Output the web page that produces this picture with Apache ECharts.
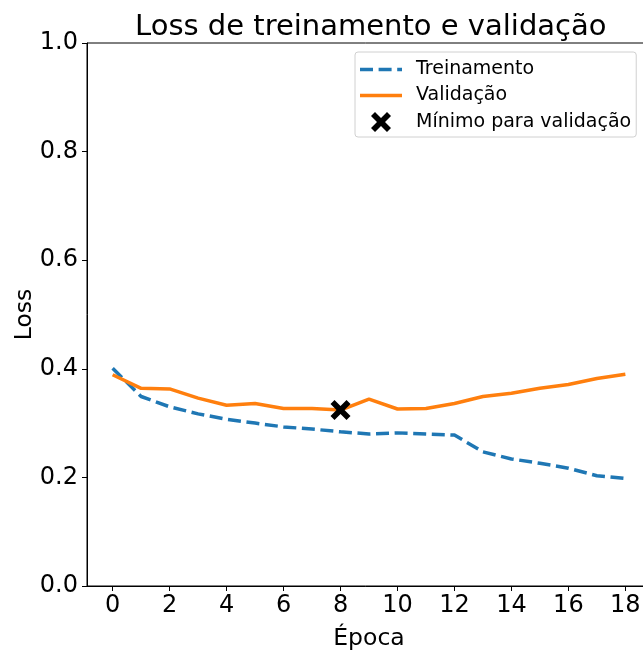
<!DOCTYPE html>
<html>
<head>
<meta charset="utf-8">
<script src="https://cdn.jsdelivr.net/npm/echarts@6/dist/echarts.min.js"></script>
<style>
  html, body { margin: 0; padding: 0; background: #fff; }
  #chart { width: 643px; height: 652px; }
</style>
</head>
<body>
<div id="chart"></div>
<script>
// Epochs and loss per epoch
const epochs = [0, 1, 2, 3, 4, 5, 6, 7, 8, 9, 10, 11, 12, 13, 14, 15, 16, 17, 18];
const trainLoss = [0.401, 0.349, 0.330, 0.317, 0.307, 0.300, 0.293, 0.289, 0.284, 0.280, 0.282, 0.280, 0.278, 0.247, 0.234, 0.226, 0.217, 0.203, 0.198];
const valLoss = [0.389, 0.364, 0.363, 0.346, 0.333, 0.336, 0.327, 0.327, 0.324, 0.344, 0.326, 0.327, 0.336, 0.349, 0.355, 0.364, 0.371, 0.382, 0.390];
const xTicks = [0, 2, 4, 6, 8, 10, 12, 14, 16, 18];
const yTicks = [0, 0.2, 0.4, 0.6, 0.8, 1.0];

// Epoch with the lowest validation loss
let bestIdx = 0;
valLoss.forEach((v, i) => { if (v < valLoss[bestIdx]) bestIdx = i; });
const bestPoint = [[epochs[bestIdx], valLoss[bestIdx]]];

const FONT = 'DejaVu Sans';
const BLUE = '#1f77b4';
const ORANGE = '#ff7f0e';
// filled "X" marker
const xMarker = 'path://M2,0 L5,3 L8,0 L10,2 L7,5 L10,8 L8,10 L5,7 L2,10 L0,8 L3,5 L0,2 Z';
// legend handles: dashed and solid strokes drawn as thin filled bars
const dashedHandle = 'path://M0,0 h13 v3.5 h-13 Z M18.6,0 h13 v3.5 h-13 Z M37.2,0 h4.8 v3.5 h-4.8 Z';
const solidHandle = 'path://M0,0 h42 v3.5 h-42 Z';

const chart = echarts.init(document.getElementById('chart'), null, { renderer: 'canvas' });
chart.setOption({
  animation: false,
  backgroundColor: '#ffffff',
  textStyle: { fontFamily: FONT },
  title: {
    text: 'Loss de treinamento e validação',
    left: 135,
    top: 13,
    padding: 0,
    textStyle: { fontFamily: FONT, fontSize: 29, fontWeight: 'normal', color: '#000' }
  },
  grid: {
    left: 87, top: 43, right: -8, bottom: 66,
    outerBoundsMode: 'none',
    containLabel: false,
    show: true, borderColor: '#000', borderWidth: 1, backgroundColor: 'transparent'
  },
  legend: {
    orient: 'vertical',
    left: 355,
    top: 52,
    padding: [8, 5, 5, 5],
    itemWidth: 42,
    itemHeight: 20,
    itemGap: 7,
    symbolKeepAspect: true,
    backgroundColor: '#fff',
    borderColor: '#d0d0d0',
    borderWidth: 1,
    borderRadius: 3,
    textStyle: { fontFamily: FONT, fontSize: 19, color: '#000', padding: [0, 0, 0, 9] },
    data: [
      { name: 'Treinamento', icon: dashedHandle, itemStyle: { color: BLUE } },
      { name: 'Validação', icon: solidHandle, itemStyle: { color: ORANGE } },
      { name: 'Mínimo para validação', icon: xMarker, itemStyle: { color: '#000', opacity: 1 } }
    ]
  },
  xAxis: {
    type: 'value',
    min: -0.9,
    max: 18.9,
    name: 'Época',
    nameLocation: 'middle',
    nameGap: 41,
    nameMoveOverlap: false,
    nameTextStyle: { fontFamily: FONT, fontSize: 23.5, color: '#000' },
    axisLine: { show: true, onZero: false, lineStyle: { color: '#000', width: 1 } },
    axisTick: { show: true, length: 5, customValues: xTicks, lineStyle: { color: '#000' } },
    axisLabel: { customValues: xTicks, fontFamily: FONT, fontSize: 24, color: '#000', margin: 8 },
    splitLine: { show: false }
  },
  yAxis: {
    type: 'value',
    min: 0,
    max: 1,
    interval: 0.2,
    name: 'Loss',
    nameLocation: 'middle',
    nameGap: 50,
    nameMoveOverlap: false,
    nameTextStyle: { fontFamily: FONT, fontSize: 23.5, color: '#000' },
    axisLine: { show: true, onZero: false, lineStyle: { color: '#000', width: 1 } },
    axisTick: { show: true, length: 5, customValues: yTicks, lineStyle: { color: '#000' } },
    axisLabel: {
      customValues: yTicks, fontFamily: FONT, fontSize: 24, color: '#000', margin: 9,
      formatter: v => v.toFixed(1)
    },
    splitLine: { show: false }
  },
  series: [
    {
      name: 'Treinamento',
      type: 'line',
      data: epochs.map((e, i) => [e, trainLoss[i]]),
      symbol: 'none',
      itemStyle: { color: BLUE },
      lineStyle: { color: BLUE, width: 3.5, type: [13, 5.6] },
      z: 2
    },
    {
      name: 'Validação',
      type: 'line',
      data: epochs.map((e, i) => [e, valLoss[i]]),
      symbol: 'none',
      itemStyle: { color: ORANGE },
      lineStyle: { color: ORANGE, width: 3.5 },
      z: 3
    },
    {
      name: 'Mínimo para validação',
      type: 'scatter',
      data: bestPoint,
      symbol: xMarker,
      symbolSize: 20,
      itemStyle: { color: '#000', opacity: 1 },
      z: 4
    }
  ]
});
</script>
</body>
</html>
